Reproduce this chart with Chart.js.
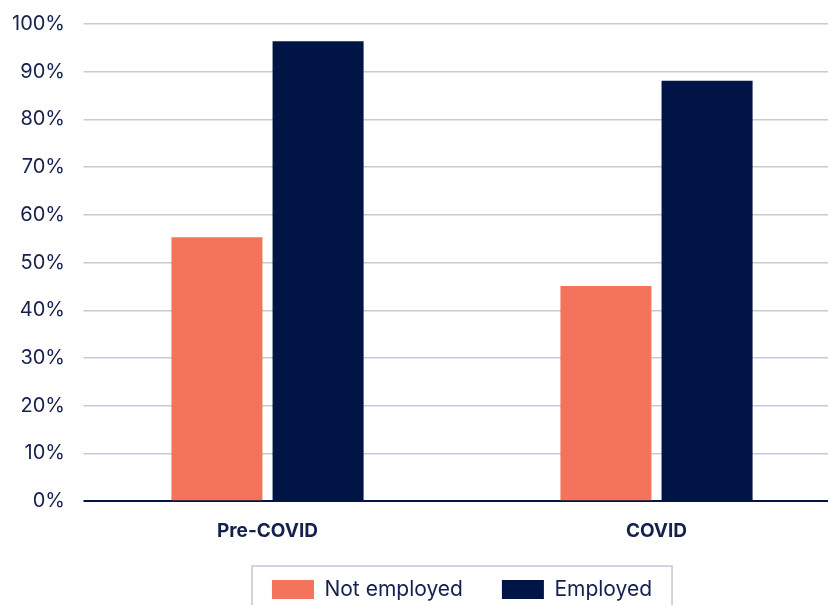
<!DOCTYPE html>
<html>
<head>
<meta charset="utf-8">
<script src="https://cdn.jsdelivr.net/npm/chart.js@4"></script>
<style>
    html, body { margin: 0; padding: 0; background: #fff; overflow: hidden; }
    #wrap { width: 828px; height: 605px; overflow: hidden; }
</style>
</head>
<body>
<div id="wrap"><canvas id="chart" width="851" height="610"></canvas></div>
<script>
const categories = ['Pre-COVID', 'COVID'];
const notEmployed = [55.3, 45.1];
const employed = [96.4, 88.1];
const yTicks = [0, 10, 20, 30, 40, 50, 60, 70, 80, 90, 100];

const navy = '#001446';
const coral = '#F4735B';
const textColor = '#14204d';
const gridColor = '#c5c9da';

// grid lines in the original start a bit right of the first category slot
const gridInset = 10.5;

const gridCover = {
    id: 'gridCover',
    afterDatasetsDraw(chart) {
        const { ctx, chartArea } = chart;
        ctx.save();
        ctx.fillStyle = '#fff';
        ctx.fillRect(chartArea.left - 2, chartArea.top - 3, gridInset + 2, chartArea.bottom - chartArea.top + 6);
        ctx.restore();
    }
};

const legendBorder = {
    id: 'legendBorder',
    afterDraw(chart) {
        const boxes = chart.legend.legendHitBoxes;
        if (!boxes || !boxes.length) return;
        const left = Math.min(...boxes.map(b => b.left));
        const right = Math.max(...boxes.map(b => b.left + b.width));
        const top = Math.min(...boxes.map(b => b.top));
        const bottom = Math.max(...boxes.map(b => b.top + b.height));
        const ctx = chart.ctx;
        ctx.save();
        ctx.strokeStyle = '#c2c6d6';
        ctx.lineWidth = 1.5;
        ctx.strokeRect(left - 20, top - 13, right - left + 40, bottom - top + 26);
        ctx.restore();
    }
};

new Chart(document.getElementById('chart'), {
    type: 'bar',
    data: {
        labels: categories,
        datasets: [
            { label: 'Not employed', data: notEmployed, backgroundColor: coral },
            { label: 'Employed', data: employed, backgroundColor: navy }
        ]
    },
    options: {
        responsive: false,
        animation: false,
        layout: { padding: { left: 4, top: 24, right: 0, bottom: 0 } },
        datasets: {
            bar: { categoryPercentage: 0.52, barPercentage: 0.9 }
        },
        plugins: {
            legend: {
                position: 'bottom',
                fullSize: false,
                labels: {
                    boxWidth: 42,
                    boxHeight: 19,
                    padding: 39,
                    color: textColor,
                    font: { family: 'Inter', size: 21 }
                }
            },
            tooltip: { enabled: false }
        },
        scales: {
            x: {
                afterFit: scale => { scale.height -= 14; },
                grid: { display: false },
                border: { display: false },
                ticks: {
                    padding: 11,
                    color: textColor,
                    font: { family: 'Inter', size: 19, weight: 'bold' }
                }
            },
            y: {
                min: 0,
                max: 100,
                afterBuildTicks: axis => { axis.ticks = yTicks.map(v => ({ value: v })); },
                border: { display: false },
                grid: {
                    drawTicks: false,
                    lineWidth: ctx => ctx.tick.value === 0 ? 2 : 1.5,
                    color: ctx => ctx.tick.value === 0 ? navy : gridColor
                },
                ticks: {
                    padding: 8,
                    color: textColor,
                    font: { family: 'Inter', size: 20 },
                    callback: v => v + '%'
                }
            }
        }
    },
    plugins: [gridCover, legendBorder]
});
</script>
</body>
</html>
